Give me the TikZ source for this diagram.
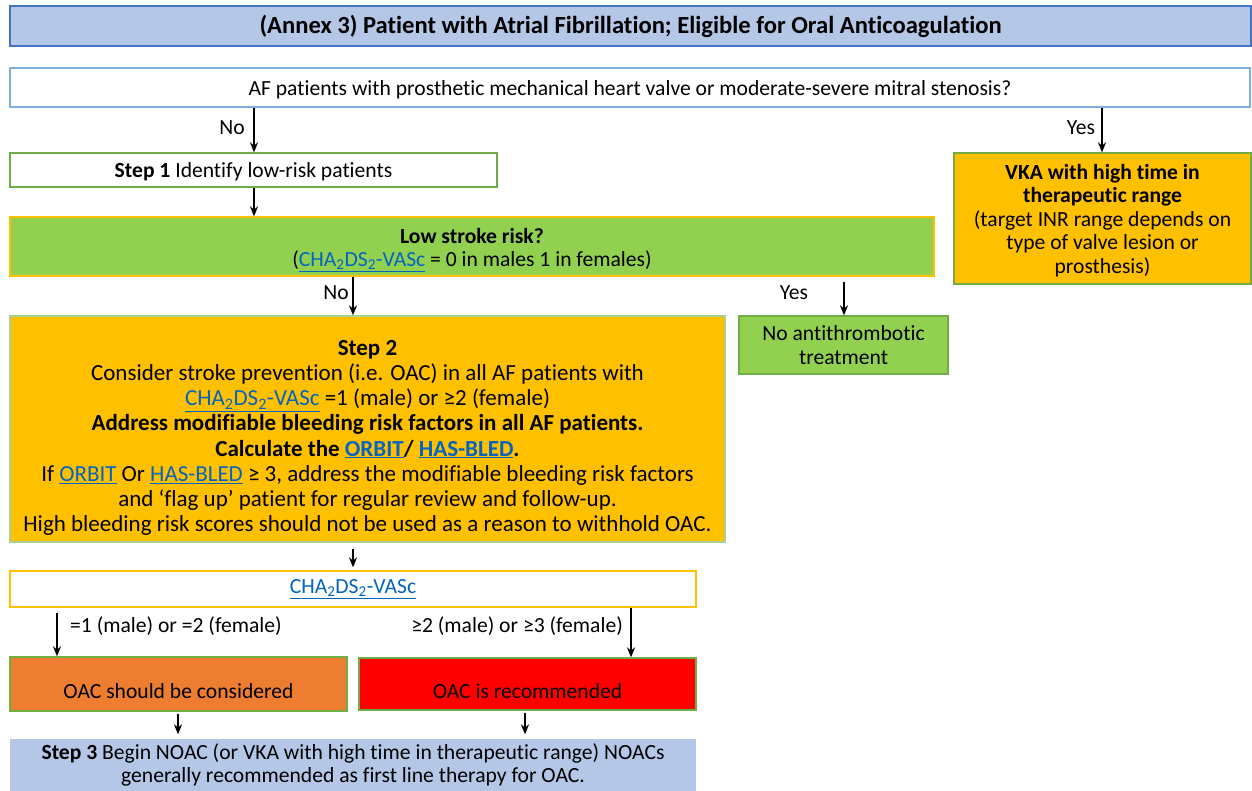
\documentclass[tikz,border=0pt]{standalone}
\usepackage{fontspec}
\setmainfont{Carlito}[Ligatures=NoCommon]
\usetikzlibrary{arrows.meta}
\definecolor{titlefill}{HTML}{B4C7E7}
\definecolor{titledraw}{HTML}{4472C4}
\definecolor{qdraw}{HTML}{7FB0DE}
\definecolor{gdraw}{HTML}{70AD47}
\definecolor{lgdraw}{HTML}{A9D18E}
\definecolor{lgreen}{HTML}{92D050}
\definecolor{amber}{HTML}{FFC000}
\definecolor{orng}{HTML}{ED7D31}
\definecolor{linkblue}{HTML}{0563C1}
\newcommand{\lnk}[1]{\textcolor{linkblue}{\underline{#1}}}
\newcommand{\chads}{\lnk{CHA\textsubscript{2}DS\textsubscript{2}-VASc}}
\tikzset{
  box/.style={rectangle, inner sep=0pt, align=center, line width=1.3pt,
    font=\fontsize{21.6}{25}\selectfont},
  arr/.style={-{Stealth[length=10pt,width=8pt]}, line width=1.8pt},
  lbl/.style={inner sep=0pt, font=\fontsize{21.6}{25}\selectfont},
}
\begin{document}
\begin{tikzpicture}[x=1pt,y=-1pt]
\useasboundingbox (0,0) rectangle (1252,790);
\node[box, fill=titlefill, draw=titledraw, minimum width=1241pt, minimum height=40pt,
  font=\fontsize{24.6}{28}\selectfont\bfseries] (title) at (630.5,26) {\rule{0pt}{19pt}(Annex 3) Patient with Atrial Fibrillation; Eligible for Oral Anticoagulation};
\node[box, fill=white, draw=qdraw, minimum width=1240pt, minimum height=39pt] (q) at (630,87.5)
  {\rule{0pt}{19pt}AF patients with prosthetic mechanical heart valve or moderate-severe mitral stenosis?};
\node[box, fill=white, draw=gdraw, minimum width=487pt, minimum height=34pt] (s1) at (253.5,170)
  {\rule{0pt}{19pt}\textbf{Step 1} Identify low-risk patients};
\node[box, fill=lgreen, draw=amber, minimum width=924pt, minimum height=59pt,
  font=\fontsize{21.6}{23}\selectfont] (low) at (472,246.5)
  {\rule{0pt}{22pt}\textbf{Low stroke risk?}\\(\chads{} = 0 in males 1 in females)};
\node[box, fill=amber, draw=gdraw, minimum width=297pt, minimum height=131pt,
  font=\fontsize{21.6}{23.5}\selectfont] (vka) at (1102.5,218.5)
  {\rule{0pt}{19pt}\textbf{VKA with high time in}\\\textbf{therapeutic range}\\(target INR range depends on\\type of valve lesion or\\prosthesis)};
\node[box, fill=lgreen, draw=gdraw, minimum width=209pt, minimum height=58pt,
  font=\fontsize{21.6}{24}\selectfont] (noat) at (843.5,345)
  {No antithrombotic\\treatment};
\node[box, fill=amber, draw=lgdraw, minimum width=715pt, minimum height=226pt,
  font=\fontsize{23}{25.2}\selectfont] (s2) at (367.5,429)
  {\rule{0pt}{33pt}\textbf{Step 2}\\
   Consider stroke prevention (i.e. OAC) in all AF patients with\\
   \chads{} =1 (male) or ≥2 (female)\\
   \textbf{Address modifiable bleeding risk factors in all AF patients.}\\
   \textbf{Calculate the \lnk{ORBIT}/ \lnk{HAS-BLED}.}\\
   If \lnk{ORBIT} Or \lnk{HAS-BLED} ≥ 3, address the modifiable bleeding risk factors\\
   and ‘flag up’ patient for regular review and follow-up.\\
   High bleeding risk scores should not be used as a reason to withhold OAC.};
\node[box, fill=white, draw=amber, minimum width=686pt, minimum height=36pt] (cha) at (353,589)
  {\chads};
\node[box, fill=orng, draw=gdraw, minimum width=337pt, minimum height=54pt] (oacc) at (178.5,684)
  {\rule{0pt}{30pt}OAC should be considered};
\node[box, fill=red, draw=gdraw, minimum width=337pt, minimum height=52pt] (oacr) at (527.5,684)
  {\rule{0pt}{30pt}OAC is recommended};
\node[box, fill=titlefill, draw=none, minimum width=686pt, minimum height=52pt,
  font=\fontsize{21.6}{23}\selectfont] (s3) at (353,765)
  {\textbf{Step 3} Begin NOAC (or VKA with high time in therapeutic range) NOACs\\generally recommended as first line therapy for OAC.};
% coordinates for connector x positions
\coordinate (xa) at (254,0);
\coordinate (xb) at (1102,0);
\coordinate (xc) at (353,0);
\coordinate (xd) at (844,0);
\coordinate (xe) at (57,0);
\coordinate (xf) at (631,0);
\coordinate (xg) at (178,0);
\coordinate (xh) at (525,0);
\draw[arr] (q.south -| xa) -- (s1.north -| xa);
\node[lbl] (lno1) at (232,128) {No};
\draw[arr] (q.south -| xb) -- (vka.north -| xb);
\node[lbl] (lyes1) at (1081,128) {Yes};
\draw[arr] (s1.south -| xa) -- (low.north -| xa);
\draw[arr] (low.south -| xc) -- (s2.north -| xc);
\node[lbl] (lno2) at (336,293) {No};
\draw[arr, shorten <=5pt] (low.south -| xd) -- (noat.north -| xd);
\node[lbl] (lyes2) at (794,293) {Yes};
\draw[arr, shorten <=6pt, shorten >=3pt] (s2.south -| xc) -- (cha.north -| xc);
\draw[arr, shorten <=5pt] (cha.south -| xe) -- (oacc.north -| xe);
\node[lbl, anchor=west] (lm) at (70,626) {=1 (male) or =2 (female)};
\draw[arr] (cha.south -| xf) -- (oacr.north -| xf);
\node[lbl, anchor=east] (lf) at (623,626) {≥2 (male) or ≥3 (female)};
\draw[arr, shorten <=2pt, shorten >=4pt] (oacc.south -| xg) -- (s3.north -| xg);
\draw[arr, shorten <=2pt, shorten >=4pt] (oacr.south -| xh) -- (s3.north -| xh);
\end{tikzpicture}
\end{document}
